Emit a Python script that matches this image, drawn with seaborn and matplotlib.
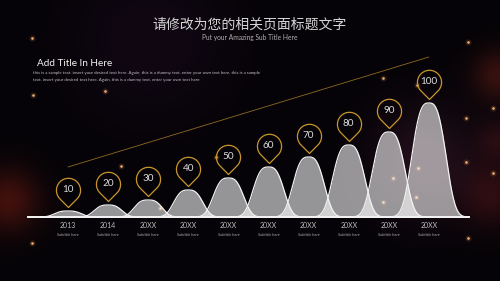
import numpy as np
import pandas as pd
import matplotlib
matplotlib.use("Agg")
import matplotlib.pyplot as plt
from matplotlib.path import Path
import seaborn as sns

# ---------------- data ----------------
years = ["2013", "2014", "20XX", "20XX", "20XX", "20XX", "20XX", "20XX", "20XX", "20XX"]
subtitles = ["Subtitle here"] * 10
values = [10, 20, 30, 40, 50, 60, 70, 80, 90, 100]
peak_heights = [6, 12, 17, 27, 39, 50, 60, 72, 85, 114]   # bump heights as drawn
trend_ends = [50, 160]                                     # decorative trend line

title = "请修改为您的相关页面标题文字"
subtitle = "Put your Amazing Sub Title Here"
block_title = "Add Title In Here"
block_lines = [
    "this is a sample text. insert your desired text here. Again, this is a dummy text. enter your own text here. this is a sample",
    "text. insert your desired text here. Again, this is a dummy text. enter your own text here",
]

# ---------------- style ----------------
W, H = 500, 281
sns.set_theme(style="dark")
plt.rcParams['font.family'] = ['Lato', 'Noto Sans CJK SC', 'DejaVu Sans']
GOLD = '#c8962c'

fig = plt.figure(figsize=(5, 2.81), dpi=100)
fig.patch.set_facecolor('#050307')

# background glow
bg = fig.add_axes([0, 0, 1, 1])
bg.axis('off')
yy, xx = np.mgrid[0:H, 0:W]
img = np.zeros((H, W, 3))
img[:] = [5, 3, 7]


def glow(cx, cy, r, col):
    g = np.exp(-((xx - cx) ** 2 + (yy - cy) ** 2) / (2 * r * r))
    return g[..., None] * np.array(col, dtype=float)


img += glow(8, 200, 22, [60, 14, 6])
img += glow(498, 75, 18, [50, 14, 8])
img += glow(492, 195, 22, [38, 9, 8])
img += glow(498, 140, 15, [30, 8, 8])
img += glow(425, 160, 38, [30, 12, 20])
img += glow(150, 40, 55, [12, 4, 12])
bg.imshow(np.clip(img, 0, 255) / 255, extent=[0, W, H, 0], aspect='auto')
bokeh = [(32, 38), (468, 42), (33, 95), (105, 91), (32, 243), (383, 78), (417, 85),
         (466, 118), (466, 162), (418, 168), (393, 178), (383, 202), (416, 197),
         (468, 238), (493, 108), (493, 173), (160, 208), (121, 166), (216, 157)]
bx = [p[0] for p in bokeh]
by = [p[1] for p in bokeh]
bg.scatter(bx, by, s=20, color='#ff9a50', alpha=0.15, lw=0)
bg.scatter(bx, by, s=3.5, color='#ffc080', alpha=0.9, lw=0)
bg.set_xlim(0, W)
bg.set_ylim(H, 0)

# main axes: 1 y-unit = 1 px, baseline at 64 px from bottom
ax = fig.add_axes([0, 0, 1, 1])
ax.set_facecolor('none')
x0 = -68 / 40.1
ax.set_xlim(x0, x0 + W / 40.1)
ax.set_ylim(-64, H - 64)

hmax = max(peak_heights)
xg = np.linspace(-1, 10, 1600)
rows = []
for i, h in enumerate(peak_heights):
    a = 0.36 + 0.14 * np.sqrt(h / hmax)
    yv = h * np.exp(-np.abs((xg - i) / a) ** 3)
    ax.fill_between(xg, 0, yv, color='white', alpha=0.58, lw=0, zorder=2)
    rows.append(pd.DataFrame({'x': xg, 'y': yv, 'cat': i}))
df = pd.concat(rows)
sns.lineplot(data=df, x='x', y='y', units='cat', estimator=None, color='#f2f2f2',
             lw=0.9, ax=ax, zorder=3, legend=False, sort=False)
ax.axis('off')

# trend line
ax.plot([0, len(values) - 1], trend_ends, color=GOLD, lw=0.6, alpha=0.7, zorder=1)

# pin marker (tip at origin, circle above)
c, r = 1.42, 1.0
ang = np.arccos(r / c)
th = np.linspace(-np.pi / 2 + ang, 3 * np.pi / 2 - ang, 80)
verts = [(0, 0)] + [(r * np.cos(t), c + r * np.sin(t)) for t in th] + [(0, 0)]
codes = [Path.MOVETO] + [Path.LINETO] * len(th) + [Path.CLOSEPOLY]
pin = Path(verts, codes)
ms = 42
r_px = ms / 0.72 / 2 / (c + r)
gap = 4.5
for i, (v, h) in enumerate(zip(values, peak_heights)):
    ax.plot(i, h + gap, marker=pin, ms=ms, mfc='none', mec=GOLD, mew=0.9, zorder=4)
    ax.text(i, h + gap + c * r_px, str(v), ha='center', va='center',
            fontsize=7.2, color='#dcdcdc', zorder=5)
    ax.text(i, -9, years[i], ha='center', va='center', fontsize=5, color='#bdbdbd')
    ax.text(i, -18, subtitles[i], ha='center', va='center', fontsize=3,
            color='#a8a8a8', style='italic')

# texts
def fy(y):
    return 1 - y / H


fig.text(0.5, fy(25), title, ha='center', va='center', fontsize=10, color='#d4d4d4',
         family=['Noto Sans CJK SC', 'DejaVu Sans'])
fig.text(0.5, fy(37.5), subtitle, ha='center', va='center', fontsize=4.8, color='#b0b0b0')
fig.text(37 / W, fy(64), block_title, ha='left', va='center', fontsize=7.2, color='#f0f0f0')
fig.text(33 / W, fy(73), block_lines[0], ha='left', va='center', fontsize=3.2, color='#c0c0c0')
fig.text(33 / W, fy(80), block_lines[1], ha='left', va='center', fontsize=3.2, color='#c0c0c0')

fig.savefig('out.png', dpi=100, facecolor=fig.get_facecolor())
